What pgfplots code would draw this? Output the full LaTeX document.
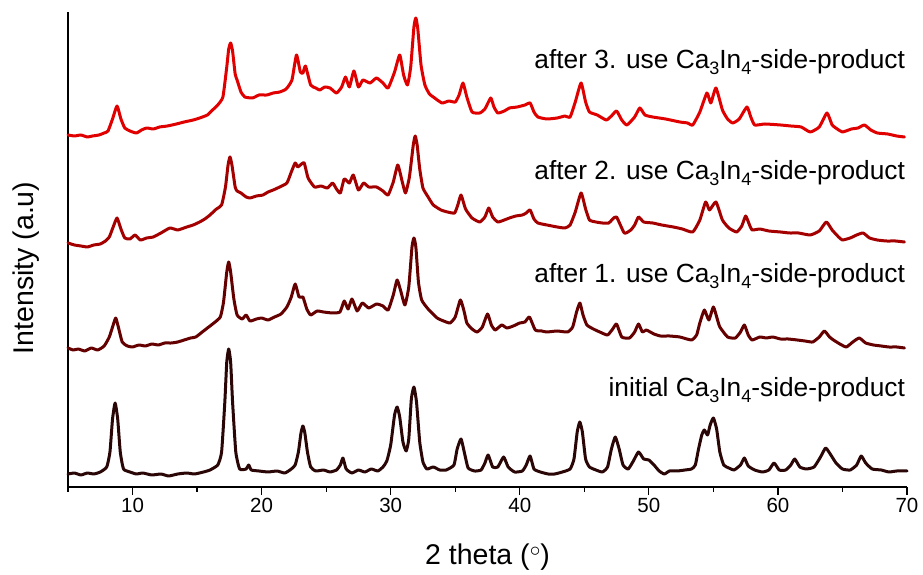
\documentclass[border=0pt]{standalone}
\usepackage{pgfplots}
\pgfplotsset{compat=1.18}
\usepackage{fontspec}
\setmainfont{Liberation Sans}
\definecolor{c0}{RGB}{42,6,6}
\definecolor{c1}{RGB}{100,0,0}
\definecolor{c2}{RGB}{165,0,0}
\definecolor{c3}{RGB}{225,0,0}
\newcommand\sub[1]{\raisebox{-6pt}{\fontsize{18}{18}\selectfont #1}}
\begin{document}
\begin{tikzpicture}
\begin{axis}[
  scale only axis, width=839pt, height=475pt,
  xmin=5, xmax=70, ymin=0, ymax=475,
  axis x line*=bottom, axis y line*=left,
  axis line style={-, line width=1.2pt},
  xtick={10,20,...,70}, minor xtick={5,15,...,65},
  ytick=\empty,
  tick align=outside, major tick length=8pt, minor tick length=5pt,
  every tick/.style={black, line width=1.2pt},
  ticklabel style={font=\fontsize{20.5}{24}\selectfont},
  /pgf/number format/assume math mode=true,
  xlabel={2 theta (\raisebox{8pt}{\scalebox{0.85}{$\circ$}})}, ylabel={Intensity (a.u)},
  label style={font=\fontsize{28.5}{32}\selectfont},
  xlabel style={at={(axis description cs:0.5,-0.1642)}, anchor=base},
  ylabel style={at={(axis description cs:-0.0417,0.461)}, anchor=base},
  every axis plot/.append style={line width=3pt, line join=round, line cap=round, no marks, smooth, tension=0.3},
  clip=false,
]
% initial
\addplot[c0] coordinates {
(5.0,13)(5.5,14)(6.0,12)(6.5,14)(7.0,13)(7.5,15)(8.0,20)(8.25,35)(8.45,68)(8.65,84)(8.85,68)(9.05,35)(9.3,18)(9.8,15)(10.3,13)(10.8,14)(11.5,12)(12.2,13)(12.8,11)(13.5,13)(14.2,14)(14.8,13)(15.5,15)(16.0,17)(16.6,22)(16.9,35)(17.15,85)(17.3,125)(17.45,138)(17.6,125)(17.75,85)(18.0,35)(18.3,18)(18.8,18)(19.0,22)(19.2,17)(19.8,16)(20.5,15)(21.2,16)(21.8,14)(22.3,18)(22.6,22)(22.85,35)(23.05,54)(23.2,61)(23.35,54)(23.55,35)(23.8,20)(24.2,16)(24.8,17)(25.3,15)(25.8,17)(26.1,22)(26.3,29)(26.55,18)(27.0,14)(27.5,17)(28.0,15)(28.5,18)(29.0,16)(29.4,20)(29.7,26)(30.0,42)(30.3,72)(30.5,80)(30.7,70)(30.95,45)(31.2,36)(31.4,48)(31.6,88)(31.8,100)(32.0,85)(32.25,45)(32.5,25)(32.8,18)(33.3,20)(33.8,17)(34.3,17)(34.9,22)(35.15,38)(35.45,48)(35.75,32)(36.0,19)(36.5,16)(37.0,17)(37.3,24)(37.55,32)(37.9,20)(38.3,20)(38.75,30)(39.1,20)(39.6,15)(40.2,16)(40.5,22)(40.8,31)(41.1,18)(41.6,15)(42.2,13)(42.7,13)(43.3,15)(43.9,18)(44.2,28)(44.45,55)(44.65,65)(44.85,55)(45.1,28)(45.4,20)(45.9,17)(46.4,15)(46.8,20)(47.1,38)(47.4,50)(47.7,38)(48.0,22)(48.4,18)(48.8,26)(49.2,35)(49.6,28)(50.0,27)(50.4,22)(50.8,16)(51.2,13)(51.6,16)(52.2,16)(52.8,17)(53.3,18)(53.6,22)(53.85,38)(54.1,52)(54.3,57)(54.55,52)(54.75,62)(55.0,69)(55.25,58)(55.5,35)(55.8,22)(56.2,19)(56.6,17)(57.1,22)(57.4,29)(57.7,21)(58.2,17)(58.8,15)(59.3,17)(59.7,24)(60.1,17)(60.6,17)(61.0,22)(61.3,28)(61.7,20)(62.2,18)(62.8,20)(63.3,30)(63.7,39)(64.1,32)(64.5,24)(65.0,18)(65.6,17)(66.1,22)(66.45,31)(66.8,24)(67.3,18)(68.0,17)(68.6,15)(69.2,16)(70.0,16)
};
% after 1
\addplot[c1] coordinates {
(5.0,139)(5.4,137)(5.8,138)(6.3,136)(6.8,139)(7.3,137)(7.8,141)(8.2,150)(8.5,162)(8.7,169)(8.9,160)(9.2,145)(9.6,141)(10.0,140)(10.5,142)(11.0,141)(11.5,143)(12.0,142)(12.5,144)(13.0,144)(13.5,145)(14.0,147)(14.5,149)(14.9,150)(15.4,155)(15.8,159)(16.3,164)(16.8,170)(17.05,185)(17.3,215)(17.45,225)(17.6,215)(17.85,188)(18.1,172)(18.5,168)(18.8,172)(19.1,166)(19.6,168)(20.0,169)(20.5,167)(21.0,170)(21.5,173)(21.96,180)(22.3,190)(22.6,203)(22.9,190)(23.2,190)(23.5,178)(23.8,172)(24.3,176)(24.8,175)(25.5,174)(26.07,175)(26.4,186)(26.7,178)(27.0,188)(27.4,176)(27.8,184)(28.3,179)(28.9,183)(29.4,181)(29.8,177)(30.2,192)(30.5,207)(30.8,195)(31.1,182)(31.4,200)(31.65,240)(31.8,249)(31.95,240)(32.15,205)(32.4,187)(32.9,178)(33.6,169)(34.1,166)(34.6,164)(35.0,170)(35.4,187)(35.7,175)(35.9,164)(36.3,158)(36.7,155)(37.1,160)(37.5,173)(37.8,162)(38.1,157)(38.6,162)(39.0,159)(39.5,161)(40.0,164)(40.4,165)(40.75,170)(41.2,157)(41.7,156)(42.1,155)(42.9,156)(43.7,155)(44.1,160)(44.4,175)(44.66,184)(44.9,172)(45.2,162)(45.7,158)(46.2,155)(46.8,152)(47.2,158)(47.5,163)(47.9,150)(48.5,149)(48.9,155)(49.2,163)(49.5,155)(49.8,157)(50.4,153)(50.9,151)(51.6,151)(52.4,150)(53.3,147)(53.7,152)(53.95,164)(54.3,177)(54.65,167)(55.0,180)(55.3,168)(55.5,160)(56.1,150)(56.7,149)(57.1,155)(57.4,162)(57.7,152)(58.0,147)(58.6,150)(59.1,149)(59.6,150)(60.2,148)(60.8,148)(61.5,147)(62.1,146)(62.7,145)(63.2,150)(63.6,156)(64.0,150)(64.3,147)(64.8,143)(65.3,140)(65.8,145)(66.3,149)(66.8,144)(67.4,142)(68.0,141)(68.6,140)(69.2,140)(69.8,139)
};
% after 2
\addplot[c2] coordinates {
(5.0,244)(5.5,242)(6.0,241)(6.5,240)(7.0,242)(7.5,243)(7.9,246)(8.2,250)(8.5,260)(8.8,269)(9.1,258)(9.4,249)(9.8,248)(10.2,252)(10.6,247)(11.1,249)(11.6,250)(12.2,254)(12.9,259)(13.5,257)(14.2,260)(14.7,262)(15.2,265)(15.6,268)(16.0,272)(16.5,278)(16.9,282)(17.2,300)(17.4,322)(17.55,330)(17.7,322)(17.95,300)(18.1,296)(18.4,294)(18.8,290)(19.1,289)(19.6,291)(20.1,292)(20.5,295)(20.9,297)(21.4,300)(21.96,304)(22.3,315)(22.6,324)(22.8,320)(23.0,322)(23.3,324)(23.6,309)(24.1,300)(24.6,301)(25.1,299)(25.5,304)(25.8,298)(26.1,294)(26.4,308)(26.8,304)(27.1,312)(27.5,297)(27.9,304)(28.3,300)(28.9,300)(29.4,296)(29.8,292)(30.2,305)(30.55,322)(30.9,305)(31.15,294)(31.45,310)(31.75,342)(31.9,351)(32.05,342)(32.25,318)(32.5,299)(32.9,290)(33.3,282)(33.9,277)(34.4,275)(34.95,274)(35.2,282)(35.45,292)(35.8,278)(36.3,269)(36.9,265)(37.3,270)(37.6,279)(37.9,270)(38.3,265)(38.8,267)(39.2,269)(39.7,271)(40.2,272)(40.5,274)(40.8,277)(41.1,268)(41.4,264)(42.1,262)(42.9,260)(43.5,259)(43.9,262)(44.3,275)(44.75,294)(45.1,278)(45.4,267)(45.9,265)(46.4,264)(46.9,264)(47.2,268)(47.5,270)(48.1,254)(48.6,257)(48.9,262)(49.2,270)(49.6,265)(50.3,264)(51.0,262)(51.9,260)(52.6,258)(53.4,255)(53.95,267)(54.4,285)(54.7,277)(55.2,285)(55.7,267)(56.2,259)(56.8,255)(57.2,261)(57.5,271)(57.8,262)(58.0,257)(58.6,258)(59.3,256)(60.2,255)(60.9,254)(61.6,254)(62.5,252)(63.2,256)(63.75,265)(64.2,257)(64.7,250)(65.0,247)(65.6,249)(66.1,252)(66.6,254)(67.1,249)(67.7,247)(68.4,246)(69.1,246)(69.8,245)
};
% after 3
\addplot[c3] coordinates {
(5.0,352)(5.5,351)(6.0,352)(6.5,350)(6.9,351)(7.4,352)(7.8,354)(8.1,356)(8.45,368)(8.8,381)(9.1,368)(9.4,359)(9.8,356)(10.3,354)(10.7,357)(11.1,359)(11.6,358)(12.1,360)(12.7,361)(13.4,363)(14.0,365)(14.7,367)(15.2,369)(15.8,372)(16.2,377)(16.6,382)(17.0,390)(17.3,420)(17.45,438)(17.6,444)(17.75,436)(17.95,413)(18.1,407)(18.4,395)(18.7,390)(19.3,389)(19.8,392)(20.4,392)(20.9,394)(21.4,395)(21.9,398)(22.35,407)(22.7,432)(23.0,415)(23.2,414)(23.4,421)(23.8,402)(24.2,399)(24.5,397)(24.9,400)(25.3,399)(25.8,394)(26.2,400)(26.5,410)(26.8,400)(27.15,416)(27.5,400)(27.85,407)(28.4,404)(28.9,409)(29.4,404)(29.8,399)(30.3,415)(30.7,432)(31.0,412)(31.3,402)(31.55,420)(31.8,460)(31.95,469)(32.1,458)(32.35,422)(32.65,402)(33.0,393)(33.3,390)(33.97,384)(34.5,386)(35.0,385)(35.3,392)(35.6,404)(35.9,390)(36.3,375)(36.9,374)(37.3,378)(37.75,389)(38.0,380)(38.3,374)(38.8,376)(39.2,379)(39.8,380)(40.4,382)(40.8,384)(41.1,375)(41.4,370)(42.1,368)(42.9,369)(43.5,371)(43.9,370)(44.3,385)(44.75,404)(45.1,385)(45.4,375)(46.0,372)(46.7,367)(47.1,371)(47.5,376)(47.9,367)(48.3,362)(48.9,370)(49.3,379)(49.7,372)(50.3,370)(51.3,368)(52.4,365)(53.0,364)(53.4,362)(53.95,375)(54.5,394)(54.8,384)(55.2,399)(55.7,377)(56.1,368)(56.5,364)(57.0,368)(57.6,380)(57.9,370)(58.2,362)(59.0,363)(60.2,362)(61.0,361)(61.8,360)(62.5,355)(63.2,360)(63.8,374)(64.2,362)(64.6,358)(65.0,355)(65.7,358)(66.2,359)(66.7,362)(67.2,357)(67.7,354)(68.5,353)(69.2,351)(69.8,350)
};
\begin{scope}[every node/.style={anchor=base east, font=\fontsize{26.3}{30}\selectfont, inner sep=0pt}]
\node at (axis cs:69.85,418) {after 3. use Ca\sub{3}In\sub{4}-side-product};
\node at (axis cs:69.85,307) {after 2. use Ca\sub{3}In\sub{4}-side-product};
\node at (axis cs:69.85,204) {after 1. use Ca\sub{3}In\sub{4}-side-product};
\node at (axis cs:69.85,90) {initial Ca\sub{3}In\sub{4}-side-product};
\end{scope}
\end{axis}
\path (-68pt,-87pt) rectangle (855pt,487pt);
\end{tikzpicture}
\end{document}
